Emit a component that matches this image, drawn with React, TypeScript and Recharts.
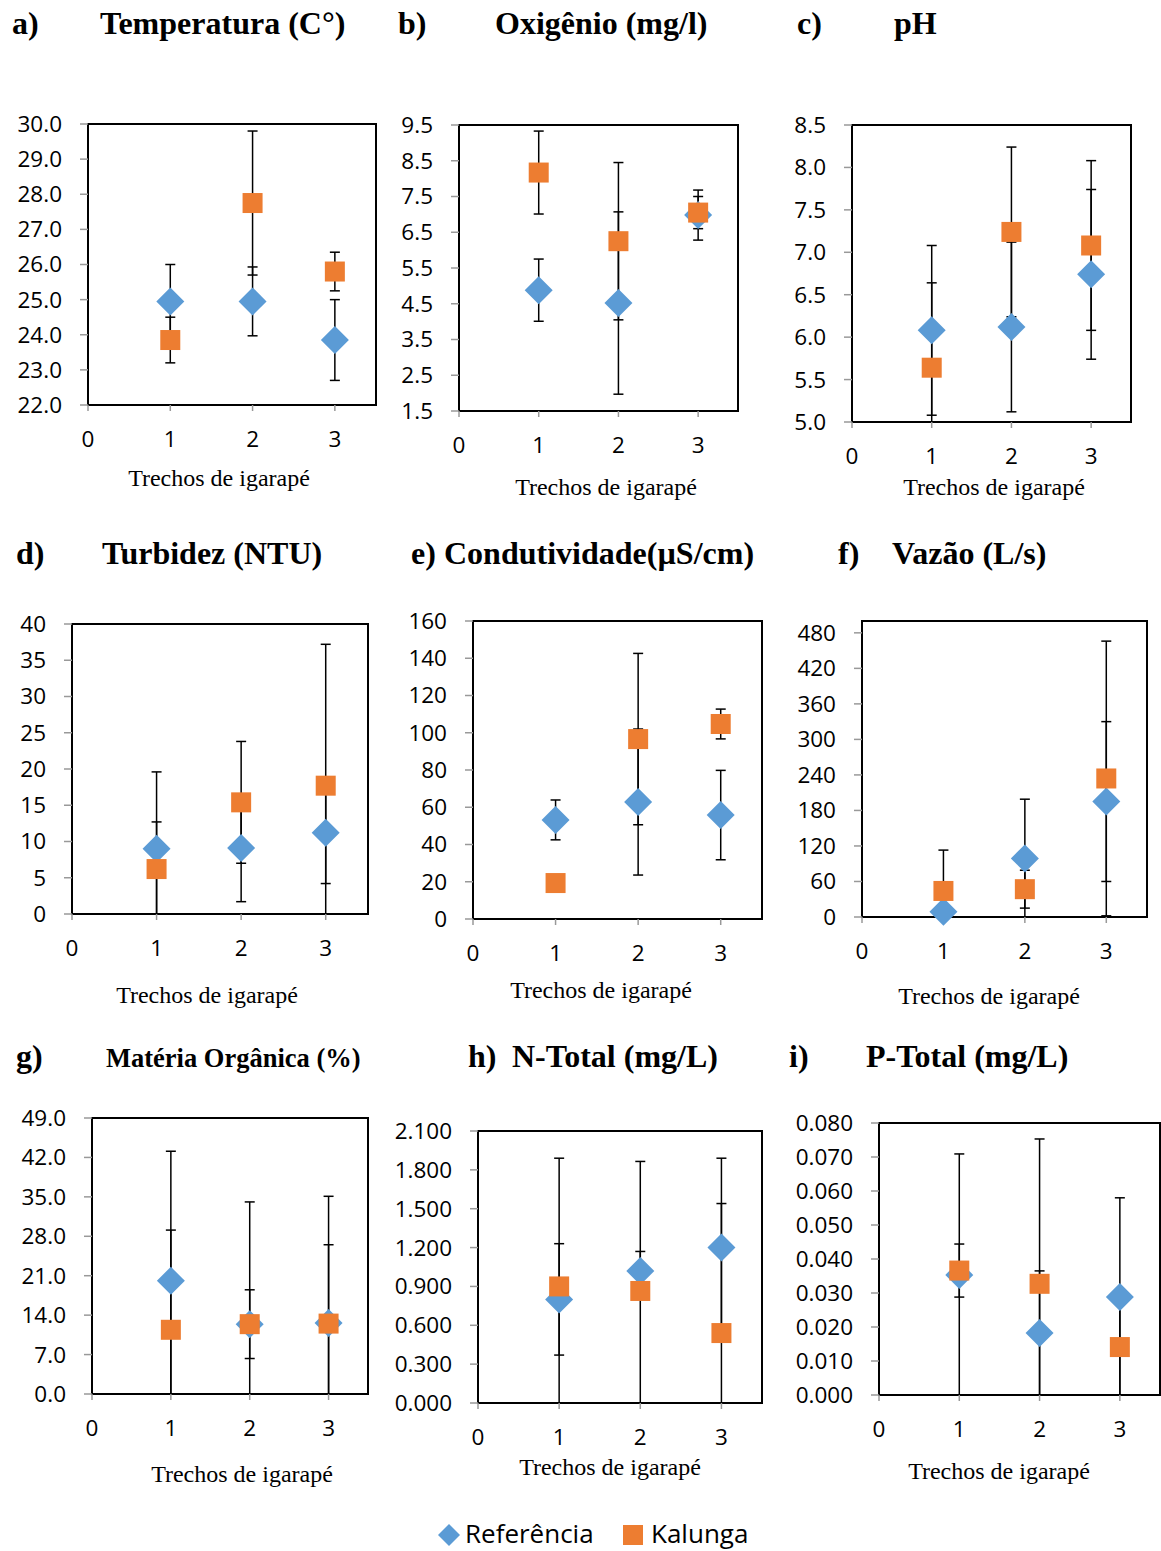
import React from 'react';
import { ScatterChart, Scatter, XAxis, YAxis, ErrorBar, ReferenceArea } from 'recharts';

// ---------- shared ----------
const categories = [1, 2, 3];
const xTicks = [0, 1, 2, 3];
const seriesNames = ['Referência', 'Kalunga'];
const xTitle = 'Trechos de igarapé';

// a) Temperatura
const tempRef = [24.95, 24.95, 23.85];
const tempRefErr = [1.05, 0.98, 1.15];
const tempKal = [23.85, 27.75, 25.8];
const tempKalErr = [0.65, 2.05, 0.55];
const tempTicks = [22, 23, 24, 25, 26, 27, 28, 29, 30];

// b) Oxigênio
const oxyRef = [4.88, 4.52, 6.98];
const oxyRefErr = [0.87, 2.55, 0.7];
const oxyKal = [8.17, 6.25, 7.05];
const oxyKalErr = [1.16, 2.2, 0.45];
const oxyTicks = [1.5, 2.5, 3.5, 4.5, 5.5, 6.5, 7.5, 8.5, 9.5];

// c) pH
const phRef = [6.08, 6.12, 6.74];
const phRefErr = [1.0, 1.0, 1.0];
const phKal = [5.64, 7.24, 7.08];
const phKalErr = [1.0, 1.0, 1.0];
const phTicks = [5.0, 5.5, 6.0, 6.5, 7.0, 7.5, 8.0, 8.5];

// d) Turbidez
const turbRef = [9.0, 9.1, 11.2];
const turbRefErr = [10.6, 7.4, 7.0];
const turbKal = [6.2, 15.4, 17.7];
const turbKalErr = [6.5, 8.4, 19.5];
const turbTicks = [0, 5, 10, 15, 20, 25, 30, 35, 40];

// e) Condutividade
const condRef = [53.2, 62.8, 55.8];
const condRefErr = [10.7, 39.2, 24.0];
const condKal = [19.3, 96.6, 104.7];
const condKalErr = [1.5, 46.0, 8.0];
const condTicks = [0, 20, 40, 60, 80, 100, 120, 140, 160];

// f) Vazão
const vazRef = [9, 99, 195];
const vazRefErr = [8, 100, 135];
const vazKal = [44, 47, 234];
const vazKalErr = [69, 32, 232];
const vazTicks = [0, 60, 120, 180, 240, 300, 360, 420, 480];

// g) Matéria Orgânica
const moRef = [20.1, 12.4, 12.6];
const moRefErr = [23.0, 21.7, 22.5];
const moKal = [11.4, 12.4, 12.5];
const moKalErr = [17.7, 6.1, 14.0];
const moTicks = [0, 7, 14, 21, 28, 35, 42, 49];

// h) N-Total
const nRef = [0.8, 1.02, 1.2];
const nRefErr = [0.43, 0.15, 0.69];
const nKal = [0.9, 0.865, 0.54];
const nKalErr = [0.99, 1.0, 1.0];
const nTicks = [0, 0.3, 0.6, 0.9, 1.2, 1.5, 1.8, 2.1];

// i) P-Total
const pRef = [0.0353, 0.0182, 0.0288];
const pRefErr = [0.0356, 0.0183, 0.0292];
const pKal = [0.0366, 0.0327, 0.0141];
const pKalErr = [0.0078, 0.0426, 0.0141];
const pTicks = [0, 0.01, 0.02, 0.03, 0.04, 0.05, 0.06, 0.07, 0.08];

// ---------- styling / layout ----------
const BLUE = '#5B9BD5';
const ORANGE = '#ED7D31';
const SANS = '"Open Sans", "Liberation Sans", sans-serif';
const SERIF = '"Liberation Serif", "Times New Roman", serif';

type PanelCfg = {
  ref: number[]; refErr: number[]; kal: number[]; kalErr: number[];
  ticks: number[]; domain: [number, number]; dec: number;
  L: number; R: number; T: number; B: number;
};

const panels: PanelCfg[] = [
  { ref: tempRef, refErr: tempRefErr, kal: tempKal, kalErr: tempKalErr, ticks: tempTicks, domain: [22, 30], dec: 1, L: 88, R: 376, T: 124, B: 405 },
  { ref: oxyRef, refErr: oxyRefErr, kal: oxyKal, kalErr: oxyKalErr, ticks: oxyTicks, domain: [1.5, 9.5], dec: 1, L: 459, R: 738, T: 125, B: 411 },
  { ref: phRef, refErr: phRefErr, kal: phKal, kalErr: phKalErr, ticks: phTicks, domain: [5, 8.5], dec: 1, L: 852, R: 1131, T: 125, B: 422 },
  { ref: turbRef, refErr: turbRefErr, kal: turbKal, kalErr: turbKalErr, ticks: turbTicks, domain: [0, 40], dec: 0, L: 72, R: 368, T: 624, B: 914 },
  { ref: condRef, refErr: condRefErr, kal: condKal, kalErr: condKalErr, ticks: condTicks, domain: [0, 160], dec: 0, L: 473, R: 762, T: 621, B: 919 },
  { ref: vazRef, refErr: vazRefErr, kal: vazKal, kalErr: vazKalErr, ticks: vazTicks, domain: [0, 500], dec: 0, L: 862, R: 1147, T: 621, B: 917 },
  { ref: moRef, refErr: moRefErr, kal: moKal, kalErr: moKalErr, ticks: moTicks, domain: [0, 49], dec: 1, L: 92, R: 368, T: 1118, B: 1394 },
  { ref: nRef, refErr: nRefErr, kal: nKal, kalErr: nKalErr, ticks: nTicks, domain: [0, 2.1], dec: 3, L: 478, R: 762, T: 1131, B: 1403 },
  { ref: pRef, refErr: pRefErr, kal: pKal, kalErr: pKalErr, ticks: pTicks, domain: [0, 0.08], dec: 3, L: 879, R: 1160, T: 1123, B: 1395 },
];

const titles = [
  { letter: 'a)', lx: 12, text: 'Temperatura (C°)', tx: 100, y: 34, size: 32 },
  { letter: 'b)', lx: 398, text: 'Oxigênio (mg/l)', tx: 495, y: 34, size: 32 },
  { letter: 'c)', lx: 797, text: 'pH', tx: 894, y: 34, size: 32 },
  { letter: 'd)', lx: 16, text: 'Turbidez (NTU)', tx: 102, y: 564, size: 32 },
  { letter: 'e)', lx: 411, text: 'Condutividade(µS/cm)', tx: 444, y: 564, size: 32 },
  { letter: 'f)', lx: 838, text: 'Vazão (L/s)', tx: 892, y: 564, size: 32 },
  { letter: 'g)', lx: 16, text: 'Matéria Orgânica (%)', tx: 106, y: 1067, size: 26.5 },
  { letter: 'h)', lx: 468, text: 'N-Total (mg/L)', tx: 512, y: 1067, size: 32 },
  { letter: 'i)', lx: 789, text: 'P-Total (mg/L)', tx: 866, y: 1067, size: 32 },
];

const xTitlePos = [
  { x: 219, y: 486 }, { x: 606, y: 495 }, { x: 994, y: 495 },
  { x: 207, y: 1003 }, { x: 601, y: 998 }, { x: 989, y: 1004 },
  { x: 242, y: 1482 }, { x: 610, y: 1475 }, { x: 999, y: 1479 },
];

const Diamond = (props: any) => {
  const { cx, cy } = props;
  const r = 14;
  return <path d={`M${cx},${cy - r}L${cx + r},${cy}L${cx},${cy + r}L${cx - r},${cy}Z`} fill={BLUE} />;
};
const Square = (props: any) => {
  const { cx, cy } = props;
  return <rect x={cx - 10} y={cy - 10} width={20} height={20} fill={ORANGE} />;
};
const Nothing = () => <g />;

function Panel({ p }: { p: PanelCfg }) {
  const YW = 90, XH = 70, MT = 20, MR = 8;
  const w = p.R - p.L + YW + MR;
  const h = p.B - p.T + MT + XH;
  const [dMin, dMax] = p.domain;
  const mk = (means: number[], errs: number[]) =>
    categories.map((x, i) => ({
      x,
      y: means[i],
      err: [Math.max(0, Math.min(errs[i], means[i] - dMin)), Math.max(0, Math.min(errs[i], dMax - means[i]))],
    }));
  const ref = mk(p.ref, p.refErr);
  const kal = mk(p.kal, p.kalErr);
  const tickStyle = { fill: '#000', fontSize: 22.5, fontFamily: SANS };
  return (
    <div style={{ position: 'absolute', left: p.L - YW, top: p.T - MT }}>
      <ScatterChart width={w} height={h} margin={{ top: MT, right: MR, left: 0, bottom: 0 }}>
        <XAxis
          type="number" dataKey="x" domain={[0, 3.5]} ticks={xTicks} interval={0} height={XH}
          axisLine={{ stroke: '#000', strokeWidth: 2 }} tickLine={{ stroke: '#999', strokeWidth: 1.5 }}
          tickSize={6} tickMargin={20} tick={tickStyle}
        />
        <YAxis
          type="number" dataKey="y" domain={p.domain} ticks={p.ticks} interval={0} width={YW}
          tickFormatter={(v: number) => v.toFixed(p.dec)}
          axisLine={{ stroke: '#000', strokeWidth: 2 }} tickLine={{ stroke: '#999', strokeWidth: 1.5 }}
          tickSize={8} tickMargin={18} tick={tickStyle}
        />
        <ReferenceArea x1={0} x2={3.5} y1={dMin} y2={dMax} fill="none" fillOpacity={0} stroke="#000" strokeWidth={2} ifOverflow="visible" />
        <Scatter name="refErr" data={ref} shape={Nothing} isAnimationActive={false}>
          <ErrorBar dataKey="err" direction="y" width={5} stroke="#000" strokeWidth={1.5} isAnimationActive={false} />
        </Scatter>
        <Scatter name="kalErr" data={kal} shape={Nothing} isAnimationActive={false}>
          <ErrorBar dataKey="err" direction="y" width={5} stroke="#000" strokeWidth={1.5} isAnimationActive={false} />
        </Scatter>
        <Scatter name={seriesNames[0]} data={ref} shape={Diamond} isAnimationActive={false} />
        <Scatter name={seriesNames[1]} data={kal} shape={Square} isAnimationActive={false} />
      </ScatterChart>
    </div>
  );
}

export default function App() {
  return (
    <div style={{ position: 'absolute', left: 0, top: 0, width: 1161, height: 1551, overflow: 'hidden', background: '#fff' }}>
      {panels.map((p, i) => <Panel key={i} p={p} />)}
      <svg width={1161} height={1551} style={{ position: 'absolute', left: 0, top: 0, pointerEvents: 'none' }}>
        {titles.map((t, i) => (
          <g key={i} fontFamily={SERIF} fontWeight="bold" fill="#000">
            <text x={t.lx} y={t.y} fontSize={32}>{t.letter}</text>
            <text x={t.tx} y={t.y} fontSize={t.size}>{t.text}</text>
          </g>
        ))}
        {xTitlePos.map((pos, i) => (
          <text key={i} x={pos.x} y={pos.y} fontFamily={SERIF} fontSize={24} textAnchor="middle" fill="#000">{xTitle}</text>
        ))}
        <g fontFamily={SANS} fontSize={26} fill="#000">
          <path d="M449,1524L460,1535L449,1546L438,1535Z" fill={BLUE} />
          <text x={465} y={1543}>{seriesNames[0]}</text>
          <rect x={623} y={1525} width={20} height={20} fill={ORANGE} />
          <text x={651} y={1543}>{seriesNames[1]}</text>
        </g>
      </svg>
    </div>
  );
}
